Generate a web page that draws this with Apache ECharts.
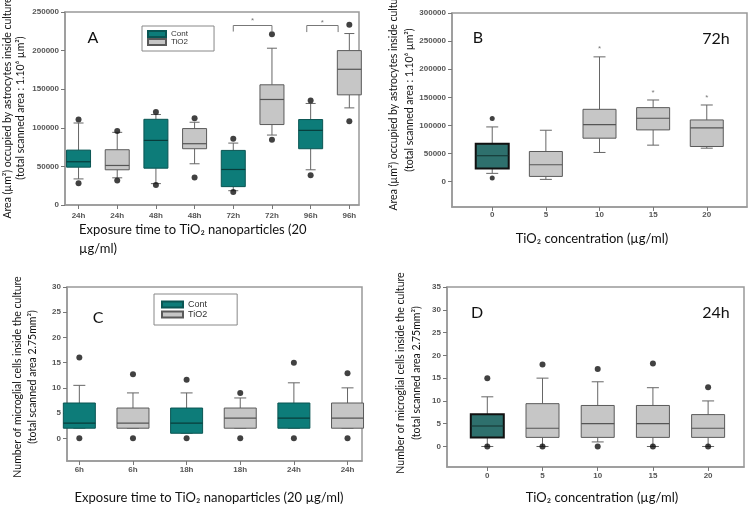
<!DOCTYPE html>
<html>
<head>
<meta charset="utf-8">
<script src="https://cdn.jsdelivr.net/npm/echarts@6/dist/echarts.min.js"></script>
<style>
html, body { margin: 0; padding: 0; background: #fff; }
#main { width: 752px; height: 507px; }
</style>
</head>
<body>
<div id="main"></div>
<script>
// A: astrocyte area vs exposure time
var aLabels = ['24h', '24h', '48h', '48h', '72h', '72h', '96h', '96h'];
var aGroup = ['Cont', 'TiO2', 'Cont', 'TiO2', 'Cont', 'TiO2', 'Cont', 'TiO2'];
var aMin = [33800, 35200, 27700, 53400, 18500, 90600, 45600, 125800];
var aQ1 = [49000, 45600, 47700, 72900, 23800, 104200, 72900, 142700];
var aMed = [56000, 51200, 83700, 79400, 46000, 136700, 96700, 175800];
var aQ3 = [71100, 71600, 111000, 99000, 70700, 155700, 110700, 200000];
var aMax = [106200, 94100, 117200, 107200, 80200, 203100, 131500, 222100];
var aOutliers = [[0, 110600], [0, 28100], [1, 95800], [1, 31600], [2, 120600], [2, 26000],
    [3, 112400], [3, 35500], [4, 85900], [4, 17000], [5, 221300], [5, 84600],
    [6, 135400], [6, 38500], [7, 233400], [7, 108500]];
var aStars = [[4.5, 241000], [6.3, 238600]];
var aBracket1 = [[4, 224700], [4, 232500], [5, 232500], [5, 224700]];
var aBracket2 = [[5.9, 224000], [5.9, 232500], [6.71, 232500], [6.71, 224000]];

// B: astrocyte area vs concentration, 72h
var bLabels = ['0', '5', '10', '15', '20'];
var bMin = [14800, 4100, 52000, 65000, 59600];
var bQ1 = [23600, 9400, 77400, 92100, 62600];
var bMed = [46100, 30100, 101600, 112800, 95700];
var bQ3 = [67300, 53700, 128700, 131700, 109800];
var bMax = [97400, 91500, 222000, 145300, 136400];
var bOutliers = [[0, 112200], [0, 6500]];
var bStars = [[2, 239700], [3, 161800], [4, 152900]];

// C: microglial cells vs exposure time
var cLabels = ['6h', '6h', '18h', '18h', '24h', '24h'];
var cGroup = ['Cont', 'TiO2', 'Cont', 'TiO2', 'Cont', 'TiO2'];
var cMin = [2, 2, 1, 2, 2, 2];
var cQ1 = [2, 2, 1, 2, 2, 2];
var cMed = [3, 3, 3, 4, 4, 4];
var cQ3 = [7, 6, 6, 6, 7, 7];
var cMax = [10.5, 9, 9, 8, 11, 10];
var cOutliers = [[0, 16], [0, 0], [1, 12.7], [1, 0], [2, 11.6], [2, 0], [3, 9], [3, 0],
    [4, 15], [4, 0], [5, 12.9], [5, 0]];

// D: microglial cells vs concentration, 24h
var dLabels = ['0', '5', '10', '15', '20'];
var dMin = [0, 0, 1, 0, 0];
var dQ1 = [2, 2, 2, 2, 2];
var dMed = [4.5, 4, 5, 5, 4];
var dQ3 = [7.1, 9.4, 9, 9, 7];
var dMax = [10.9, 15, 14.2, 12.9, 10];
var dOutliers = [[0, 15], [0, 0], [1, 18], [1, 0], [2, 17], [2, 0], [3, 18.2], [3, 0], [4, 13], [4, 0]];

var contA = { fill: '#0d7c79', stroke: '#0a5553', lw: 1, med: '#083c3b' };
var contB = { fill: '#2e706d', stroke: '#111', lw: 2, med: '#12302f' };
var tio = { fill: '#c6c6c6', stroke: '#5a5a5a', lw: 1, med: '#555' };

var tickFont = { fontSize: 8, fontWeight: 'bold', color: '#555', fontFamily: 'Liberation Sans' };

function rows(mins, q1s, meds, q3s, maxs, keep) {
    var out = [];
    for (var i = 0; i < mins.length; i++) {
        if (keep(i)) out.push([i, mins[i], q1s[i], meds[i], q3s[i], maxs[i]]);
    }
    return out;
}

function boxRenderer(sty, halfW, capHalf) {
    return function (params, api) {
        var x = api.value(0);
        var pMin = api.coord([x, api.value(1)]);
        var pQ1 = api.coord([x, api.value(2)]);
        var pMed = api.coord([x, api.value(3)]);
        var pQ3 = api.coord([x, api.value(4)]);
        var pMax = api.coord([x, api.value(5)]);
        var cx = pMin[0];
        var ln = { stroke: '#666', lineWidth: 1 };
        return {
            type: 'group',
            children: [
                { type: 'line', shape: { x1: cx, y1: pMax[1], x2: cx, y2: pQ3[1] }, style: ln },
                { type: 'line', shape: { x1: cx, y1: pQ1[1], x2: cx, y2: pMin[1] }, style: ln },
                { type: 'line', shape: { x1: cx - capHalf, y1: pMax[1], x2: cx + capHalf, y2: pMax[1] }, style: ln },
                { type: 'line', shape: { x1: cx - capHalf, y1: pMin[1], x2: cx + capHalf, y2: pMin[1] }, style: ln },
                { type: 'rect', shape: { x: cx - halfW, y: pQ3[1], width: 2 * halfW, height: pQ1[1] - pQ3[1] },
                    style: { fill: sty.fill, stroke: sty.stroke, lineWidth: sty.lw } },
                { type: 'line', shape: { x1: cx - halfW, y1: pMed[1], x2: cx + halfW, y2: pMed[1] },
                    style: { stroke: sty.med, lineWidth: 1.2 } }
            ]
        };
    };
}

function boxSeries(name, grid, sty, halfW, capHalf, data) {
    return {
        type: 'custom', name: name, xAxisIndex: grid, yAxisIndex: grid,
        renderItem: boxRenderer(sty, halfW, capHalf),
        encode: { x: 0, y: [1, 2, 3, 4, 5] },
        itemStyle: { color: sty.fill, borderColor: sty.stroke, borderWidth: 1 },
        silent: true,
        data: data
    };
}

function dots(grid, data, size) {
    return {
        type: 'scatter', xAxisIndex: grid, yAxisIndex: grid, symbolSize: size,
        itemStyle: { color: '#111' }, silent: true, data: data
    };
}

function stars(grid, data) {
    return {
        type: 'scatter', xAxisIndex: grid, yAxisIndex: grid, symbolSize: 1,
        itemStyle: { color: 'rgba(0,0,0,0)' }, silent: true,
        label: { show: true, formatter: '*', position: 'inside', offset: [0, 2], fontSize: 8, color: '#555', fontFamily: 'Liberation Sans' },
        data: data
    };
}

function bracket(data) {
    return {
        type: 'line', xAxisIndex: 0, yAxisIndex: 0, symbol: 'none', silent: true,
        lineStyle: { color: '#777', width: 1 }, data: data
    };
}

function xAx(grid, min, max, labels, margin) {
    var vals = labels.map(function (l, i) { return i; });
    return {
        type: 'value', gridIndex: grid, min: min, max: max,
        splitLine: { show: false },
        axisLine: { show: true, onZero: false, lineStyle: { color: '#999', width: 1.5 } },
        axisTick: { show: true, customValues: vals, length: 4, lineStyle: { color: '#777' } },
        axisLabel: Object.assign({ customValues: vals, margin: margin,
            formatter: function (v) { return labels[Math.round(v)]; } }, tickFont)
    };
}

function yAx(grid, min, max, ticks) {
    return {
        type: 'value', gridIndex: grid, min: min, max: max,
        splitLine: { show: false },
        axisLine: { show: true, onZero: false, lineStyle: { color: '#999', width: 1.5 } },
        axisTick: { show: true, customValues: ticks, length: 4, lineStyle: { color: '#777' } },
        axisLabel: Object.assign({ customValues: ticks, margin: 6,
            formatter: function (v) { return String(v); } }, tickFont)
    };
}

function txt(x, y, text, size, opts) {
    opts = opts || {};
    return {
        type: 'text', x: x, y: y, rotation: opts.rot || 0, silent: true,
        style: {
            text: text, fill: '#111', align: opts.align || 'center', verticalAlign: 'middle',
            fontSize: size, fontFamily: 'Lato', lineHeight: opts.lh || size * 1.2
        }
    };
}

var gridStyle = { show: true, borderColor: '#999', borderWidth: 1.5, backgroundColor: 'transparent' };

var myChart = echarts.init(document.getElementById('main'));

var option = {
    backgroundColor: '#fff',
    animation: false,
    grid: [
        Object.assign({ left: 65, top: 12, width: 294, height: 193 }, gridStyle),
        Object.assign({ left: 452, top: 13, width: 295, height: 194 }, gridStyle),
        Object.assign({ left: 67, top: 287, width: 295, height: 174 }, gridStyle),
        Object.assign({ left: 447, top: 287, width: 297, height: 180 }, gridStyle)
    ],
    xAxis: [
        xAx(0, -0.35, 7.25, aLabels, 7),
        xAx(1, -0.75, 4.75, bLabels, 4),
        xAx(2, -0.23, 5.27, cLabels, 5),
        xAx(3, -0.73, 4.65, dLabels, 5)
    ],
    yAxis: [
        yAx(0, 0, 250000, [0, 50000, 100000, 150000, 200000, 250000]),
        yAx(1, -45000, 300000, [0, 50000, 100000, 150000, 200000, 250000, 300000]),
        yAx(2, -4.5, 30, [0, 5, 10, 15, 20, 25, 30]),
        yAx(3, -4.5, 35, [0, 5, 10, 15, 20, 25, 30, 35])
    ],
    legend: [
        {
            left: 142, top: 26, orient: 'vertical', icon: 'rect', selectedMode: false,
            itemWidth: 18, itemHeight: 6, itemGap: 0, padding: [4, 26, 5, 5],
            borderColor: '#888', borderWidth: 1,
            textStyle: { fontSize: 8, color: '#333', fontFamily: 'Liberation Sans' },
            data: ['Cont', 'TiO2']
        },
        {
            left: 154, top: 294, orient: 'vertical', icon: 'rect', selectedMode: false,
            itemWidth: 21, itemHeight: 6, itemGap: 1, padding: [6, 30, 6, 7],
            borderColor: '#888', borderWidth: 1,
            textStyle: { fontSize: 9, color: '#333', fontFamily: 'Liberation Sans' },
            data: ['Cont', 'TiO2']
        }
    ],
    series: [
        boxSeries('Cont', 0, contA, 12, 5, rows(aMin, aQ1, aMed, aQ3, aMax, function (i) { return aGroup[i] === 'Cont'; })),
        boxSeries('TiO2', 0, tio, 12, 5, rows(aMin, aQ1, aMed, aQ3, aMax, function (i) { return aGroup[i] === 'TiO2'; })),
        dots(0, aOutliers, 6),
        stars(0, aStars),
        bracket(aBracket1),
        bracket(aBracket2),

        boxSeries('B cont', 1, contB, 16.5, 6, rows(bMin, bQ1, bMed, bQ3, bMax, function (i) { return i === 0; })),
        boxSeries('B tio', 1, tio, 16.5, 6, rows(bMin, bQ1, bMed, bQ3, bMax, function (i) { return i > 0; })),
        dots(1, bOutliers, 5),
        stars(1, bStars),

        boxSeries('Cont', 2, contA, 16, 6, rows(cMin, cQ1, cMed, cQ3, cMax, function (i) { return cGroup[i] === 'Cont'; })),
        boxSeries('TiO2', 2, tio, 16, 6, rows(cMin, cQ1, cMed, cQ3, cMax, function (i) { return cGroup[i] === 'TiO2'; })),
        dots(2, cOutliers, 6),

        boxSeries('D cont', 3, contB, 16.5, 6, rows(dMin, dQ1, dMed, dQ3, dMax, function (i) { return i === 0; })),
        boxSeries('D tio', 3, tio, 16.5, 6, rows(dMin, dQ1, dMed, dQ3, dMax, function (i) { return i > 0; })),
        dots(3, dOutliers, 6)
    ],
    graphic: [
        txt(93, 38, 'A', 16),
        txt(478, 38, 'B', 16),
        txt(716, 39, '72h', 16),
        txt(98, 318, 'C', 16),
        txt(477, 313, 'D', 16),
        txt(716, 313, '24h', 16),

        txt(79, 239, 'Exposure time to TiO₂ nanoparticles (20\nµg/ml)', 13, { align: 'left', lh: 19 }),
        txt(592, 239, 'TiO₂ concentration (µg/ml)', 13),
        txt(209, 498, 'Exposure time to TiO₂ nanoparticles (20 µg/ml)', 13),
        txt(602, 498, 'TiO₂ concentration (µg/ml)', 13),

        txt(14, 108, 'Area (µm²) occupied by astrocytes inside culture\n(total scanned area : 1.10⁶ µm²)', 10.5, { rot: Math.PI / 2, lh: 13.5 }),
        txt(402, 100, 'Area (µm²) occupied by astrocytes inside culture\n(total scanned area : 1.10⁶ µm²)', 10.5, { rot: Math.PI / 2, lh: 16 }),
        txt(25, 377, 'Number of microglial cells inside the culture\n(total scanned area 2.75mm²)', 10.5, { rot: Math.PI / 2, lh: 15 }),
        txt(409, 373, 'Number of microglial cells inside the culture\n(total scanned area 2.75mm²)', 10.5, { rot: Math.PI / 2, lh: 16 })
    ]
};

myChart.setOption(option);
</script>
</body>
</html>
